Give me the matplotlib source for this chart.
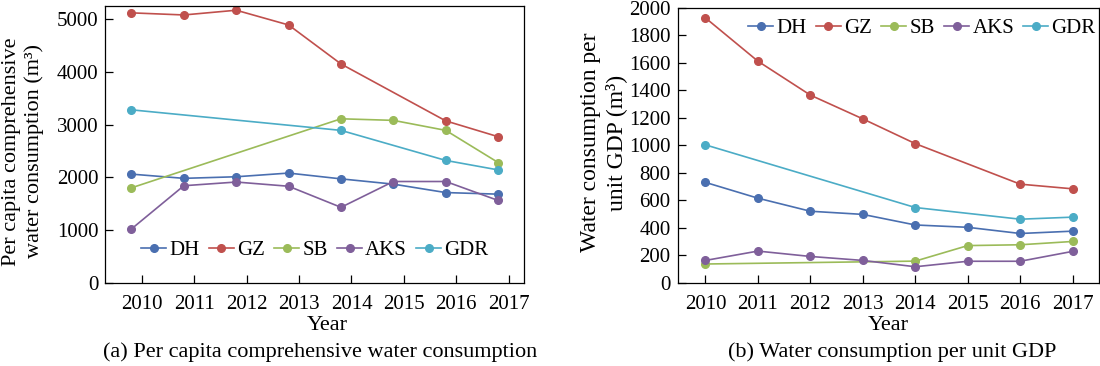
import numpy as np
import matplotlib
matplotlib.use("Agg")
import matplotlib.pyplot as plt

plt.rcParams['font.family'] = ['Liberation Serif', 'DejaVu Serif']

years = ['2010', '2011', '2012', '2013', '2014', '2015', '2016', '2017']
regions = ['DH', 'GZ', 'SB', 'AKS', 'GDR']
colors = ['#4a6fb0', '#c0504d', '#9bbb59', '#7f5f9a', '#4bacc6']

nan = np.nan
# (a) per capita comprehensive water consumption (m3)
dh_a = [2060, 1980, 2010, 2080, 1970, 1870, 1710, 1680]
gz_a = [5120, 5080, 5170, 4890, 4150, nan, 3070, 2770]
sb_a = [1800, nan, nan, nan, 3110, 3080, 2890, 2280]
aks_a = [1020, 1840, 1910, 1830, 1430, 1920, 1920, 1560]
gdr_a = [3280, nan, nan, nan, 2890, nan, 2320, 2140]

# (b) water consumption per unit GDP (m3)
dh_b = [730, 615, 520, 497, 420, 403, 358, 375]
gz_b = [1927, 1612, 1365, 1192, 1012, nan, 717, 683]
sb_b = [136, nan, nan, nan, 157, 270, 276, 300]
aks_b = [162, 230, 191, 162, 116, 156, 156, 228]
gdr_b = [1003, nan, nan, nan, 547, nan, 462, 477]

series_a = [dh_a, gz_a, sb_a, aks_a, gdr_a]
series_b = [dh_b, gz_b, sb_b, aks_b, gdr_b]

fig = plt.figure(figsize=(11, 3.66), dpi=100)
ax1 = fig.add_axes([0.0957, 0.2276, 0.381, 0.756])
ax2 = fig.add_axes([0.616, 0.2276, 0.383, 0.751])

x = np.arange(len(years))


def draw(ax, series):
    for name, vals, c in zip(regions, series, colors):
        v = np.array(vals, dtype=float)
        ok = ~np.isnan(v)
        ax.plot(x[ok], v[ok], color=c, lw=1.2, marker='o', markersize=5.5, label=name)
    ax.tick_params(direction='in', length=6, labelsize=15, width=0.9)
    ax.tick_params(axis='x', pad=8.5)
    ax.tick_params(axis='y', pad=5)
    for s in ax.spines.values():
        s.set_linewidth(0.9)


leg_kw = dict(ncol=5, frameon=False, fontsize=15, handlelength=1.2,
              handletextpad=0.15, columnspacing=0.45, borderpad=0.1)

draw(ax1, series_a)
ax1.set_xlim(-0.5, 7.5)
ax1.set_ylim(0, 5250)
ax1.set_yticks(range(0, 5001, 1000))
# ticks sit a little right of the points in the original figure
ax1.set_xticks(x + 0.2)
ax1.set_xticklabels(years)
ax1.set_ylabel('Per capita comprehensive\nwater consumption (m³)', fontsize=16, linespacing=1.25)
ax1.yaxis.set_label_coords(-0.146, 0.475)
ax1.set_xlabel('Year', fontsize=16)
ax1.xaxis.set_label_coords(0.529, -0.122)
ax1.legend(loc='center', bbox_to_anchor=(0.5, 0.118), **leg_kw)
fig.text(0.0934, 0.025, '(a) Per capita comprehensive water consumption',
         ha='left', va='baseline', fontsize=16)

draw(ax2, series_b)
ax2.set_xlim(-0.53, 7.5)
ax2.set_ylim(0, 2000)
ax2.set_yticks(range(0, 2001, 200))
ax2.set_xticks(x)
ax2.set_xticklabels(years)
ax2.set_ylabel('Water consumption per\nunit GDP (m³)', fontsize=17, linespacing=1.25)
ax2.yaxis.set_label_coords(-0.12, 0.51)
ax2.set_xlabel('Year', fontsize=16)
ax2.xaxis.set_label_coords(0.5, -0.122)
ax2.legend(loc='center', bbox_to_anchor=(0.58, 0.926), **leg_kw)
fig.text(0.811, 0.025, '(b) Water consumption per unit GDP',
         ha='center', va='baseline', fontsize=16)

fig.savefig('out.png', dpi=100)
